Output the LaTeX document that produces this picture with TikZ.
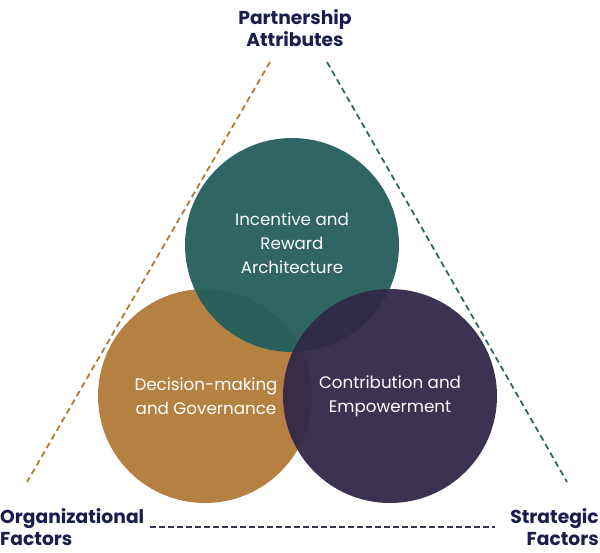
\documentclass[tikz,border=0pt]{standalone}
\usepackage{fontspec}
\setmainfont{Poppins}
\usetikzlibrary{positioning}
\definecolor{gold}{HTML}{B07A38}
\definecolor{teal}{HTML}{245E5B}
\definecolor{tealline}{HTML}{2F6663}
\definecolor{plum}{HTML}{312849}
\definecolor{navy}{HTML}{1A1D4E}
\begin{document}
\begin{tikzpicture}[x=1pt,y=-1pt,
  circ/.style={circle,minimum size=214pt,inner sep=0pt,fill opacity=0.95,text opacity=1},
  ctext/.style={text=white,align=center,font=\fontsize{16.7}{24}\selectfont},
  title/.style={text=navy,font=\bfseries\fontsize{18.7}{22}\selectfont},
  dline/.style={line width=1.8pt,dash pattern=on 6pt off 4pt}]
\useasboundingbox (0,0) rectangle (600,552);
\node[circ,fill=gold] (org) at (205,396) {};
\node[circ,fill=teal] (inc) at (292,245) {};
\node[circ,fill=plum] (con) at (390,396) {};
\node[ctext] (orgt) at (206,396) {Decision-making\\and Governance};
\node[ctext] (inct) at (292,243) {Incentive and\\Reward\\Architecture};
\node[ctext] (cont) at (390,396) {Contribution and\\Empowerment};
\node[title,align=center] (pa) at (295,28) {Partnership\\Attributes};
\node[title,align=left,anchor=west,inner sep=0pt] (of) at (0,527) {Organizational\\Factors};
\node[title,align=right,anchor=east,inner sep=0pt] (sf) at (599,527) {Strategic\\Factors};
\coordinate (l1) at (270,62); \coordinate (l2) at (27,482);
\coordinate (r1) at (327,62); \coordinate (r2) at (567,482);
\coordinate (b1) at (150,527); \coordinate (b2) at (495,527);
\draw[dline,gold] (l1) -- (l2);
\draw[dline,tealline] (r1) -- (r2);
\draw[line width=1.4pt,navy!75!gray,dash pattern=on 6pt off 3pt] (b1) -- (b2);
\end{tikzpicture}
\end{document}
